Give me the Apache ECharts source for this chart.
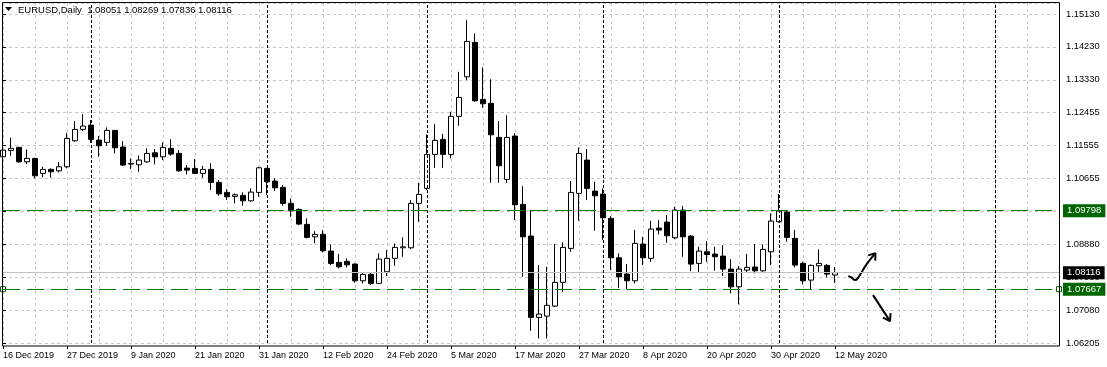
<!DOCTYPE html>
<html>
<head>
<meta charset="utf-8">
<script src="https://cdn.jsdelivr.net/npm/echarts@6/dist/echarts.min.js"></script>
<style>
html,body{margin:0;padding:0;background:#fff;}
#chart{width:1107px;height:367px;}
</style>
</head>
<body>
<div id="chart"></div>
<script>
// ---- data ----
const opens = [1.11259,1.11432,1.11514,1.11123,1.11215,1.10809,1.10917,1.10879,1.10988,1.11693,
1.12002,1.12119,1.11712,1.11650,1.11975,1.11522,1.11061,1.11042,1.11123,1.11367,
1.11259,1.11487,1.11351,1.10952,1.10944,1.10809,1.10917,1.10564,1.10293,1.10185,
1.10212,1.10065,1.10293,1.10944,1.10600,1.10429,1.09995,1.09832,1.09425,1.09089,
1.09154,1.08701,1.08394,1.08421,1.08348,1.07895,1.08069,1.07824,1.08139,1.08503,
1.08790,1.08790,1.09995,1.10402,1.11324,1.11731,1.11324,1.12355,1.13429,1.14362,
1.12816,1.12708,1.11785,1.10646,1.11820,1.09968,1.09108,1.06902,1.06937,1.07209,
1.07852,1.08774,1.10266,1.11169,1.10328,1.10247,1.09588,1.08519,1.08077,1.07895,
1.08891,1.08503,1.09325,1.09487,1.09062,1.09813,1.09108,1.08367,1.08682,1.08619,
1.08565,1.08212,1.07732,1.08185,1.08267,1.08166,1.08682,1.09496,1.09759,1.09045,
1.08367,1.07914,1.08302,1.08313,1.08051];
const closes = [1.11441,1.11487,1.11123,1.11215,1.10743,1.10917,1.10852,1.10988,1.11758,1.12002,
1.12092,1.11731,1.11557,1.11975,1.11503,1.11034,1.11080,1.11169,1.11351,1.11259,
1.11514,1.11332,1.10879,1.10898,1.10809,1.10917,1.10564,1.10255,1.10174,1.10228,
1.10065,1.10301,1.10960,1.10581,1.10418,1.09995,1.09794,1.09433,1.09072,1.09154,
1.08709,1.08367,1.08275,1.08329,1.07895,1.08069,1.07824,1.08484,1.08503,1.08801,
1.08817,1.09995,1.10239,1.11324,1.11704,1.11324,1.12355,1.12870,1.14389,1.12778,
1.12697,1.11856,1.11015,1.11785,1.09957,1.09089,1.06902,1.06992,1.07228,1.07852,
1.08801,1.10293,1.11351,1.10402,1.10201,1.09604,1.08519,1.08004,1.07895,1.08910,
1.08519,1.09298,1.09270,1.09116,1.09813,1.09089,1.08348,1.08701,1.08611,1.08546,
1.08212,1.07732,1.08212,1.08259,1.08166,1.08747,1.09515,1.09786,1.09072,1.08321,
1.07895,1.08313,1.08367,1.08077,1.08116];
const lows = [1.11215,1.11286,1.11096,1.11061,1.10673,1.10700,1.10689,1.10836,1.10944,1.11666,
1.11956,1.11639,1.11259,1.11557,1.11351,1.11007,1.10925,1.10852,1.11096,1.11053,
1.11169,1.11286,1.10852,1.10781,1.10790,1.10689,1.10356,1.10201,1.10084,1.09995,
1.09930,1.10038,1.10174,1.10220,1.10328,1.09930,1.09631,1.09406,1.09045,1.08910,
1.08665,1.08321,1.08231,1.08259,1.07841,1.07824,1.07778,1.07805,1.08023,1.08302,
1.08546,1.08755,1.09496,1.10356,1.10960,1.10960,1.11215,1.12100,1.13340,1.12751,
1.12588,1.10554,1.10554,1.10554,1.09542,1.08004,1.06539,1.06332,1.06332,1.07180,
1.07597,1.08682,1.09523,1.10084,1.09251,1.08999,1.08185,1.07705,1.07662,1.07824,
1.08321,1.08410,1.09154,1.08926,1.09026,1.08546,1.08158,1.08112,1.08410,1.08166,
1.08023,1.07553,1.07255,1.08112,1.08096,1.08139,1.08321,1.09479,1.08953,1.08259,
1.07797,1.07662,1.08139,1.07987,1.07836];
const highs = [1.11595,1.11774,1.11530,1.11460,1.11232,1.10988,1.10944,1.11115,1.11910,1.12227,
1.12417,1.12254,1.11820,1.12056,1.11983,1.11685,1.11215,1.11297,1.11487,1.11468,
1.11650,1.11739,1.11441,1.11034,1.11196,1.11007,1.11088,1.10627,1.10375,1.10266,
1.10293,1.10402,1.10988,1.10960,1.10673,1.10491,1.10130,1.09859,1.09588,1.09243,
1.09270,1.08882,1.08619,1.08503,1.08367,1.08123,1.08112,1.08638,1.08728,1.08910,
1.09072,1.10084,1.10554,1.11867,1.12146,1.11875,1.12480,1.13565,1.14967,1.14606,
1.13684,1.13359,1.12227,1.12382,1.11894,1.10464,1.09813,1.08321,1.08275,1.08891,
1.08937,1.10600,1.11514,1.11468,1.10581,1.10402,1.09650,1.08638,1.08348,1.09270,
1.09089,1.09523,1.09542,1.09677,1.09902,1.09921,1.09135,1.08817,1.08972,1.08817,
1.08863,1.08484,1.08294,1.08619,1.08891,1.08882,1.09723,1.10247,1.09813,1.09270,
1.08410,1.08340,1.08747,1.08348,1.08269];

const yTickLabels = ['1.06205','1.07080','1.07980','1.08880','1.09780','1.10655','1.11555','1.12455','1.13330','1.14230','1.15130'];
const resistanceLevel = 1.09798;
const supportLevel = 1.07667;
const bidLevel = 1.08116;
const titleText = 'EURUSD,Daily  1.08051 1.08269 1.07836 1.08116';
const separatorIndexes = [11, 33, 53, 75, 97, 124];
// hand-drawn arrows: [bar index, price]
const arrowUpPath = [[105.66,1.08023],[106.09,1.07982],[106.5,1.07914],[106.81,1.07955],[107.96,1.08348],[109.06,1.08646]];
const arrowUpHead = [[108.16,1.08584],[109.06,1.08646],[109.03,1.08443]];
const arrowDownPath = [[108.75,1.07507],[110.88,1.06802]];
const arrowDownHead = [[110.0,1.06897],[110.88,1.06802],[110.94,1.07019]];

// categories: trading days (Dec 25 and Jan 1 closed)
const monthNames = ['Jan','Feb','Mar','Apr','May','Jun','Jul','Aug','Sep','Oct','Nov','Dec'];
const closedDays = ['2019-12-25','2020-01-01'];
const totalSlots = 133;
const categories = [];
(function(){
  let d = new Date(Date.UTC(2019,11,16));
  while (categories.length < totalSlots) {
    const dow = d.getUTCDay();
    const iso = d.toISOString().slice(0,10);
    if (dow !== 0 && dow !== 6 && closedDays.indexOf(iso) < 0) {
      categories.push(d.getUTCDate() + ' ' + monthNames[d.getUTCMonth()] + ' ' + d.getUTCFullYear());
    }
    d = new Date(d.getTime() + 86400000);
  }
})();
const lastBar = opens.length - 1;
const candleData = opens.map((o, i) => [o, closes[i], lows[i], highs[i]]);
// anchor squares of the selected support line (first and last slot)
const supportAnchors = [[0, supportLevel], [totalSlots - 1, supportLevel]];

// ---- chart ----
const FONT = 'Liberation Sans';
const yInterval = 0.008925;
const yMin = 119 * yInterval;            // 1.062075
const yMax = yMin + 340 * 0.00027128;
const chart = echarts.init(document.getElementById('chart'), null, {renderer: 'canvas'});

const tagLabel = (bg) => ({
  show: true, position: 'end', distance: 4,
  formatter: (p) => Number(p.value).toFixed(5),
  color: '#fff', backgroundColor: bg, padding: [2, 4, 1, 4],
  fontFamily: FONT, fontSize: 9.5, lineHeight: 10
});
const TAG_GREEN = '#006400';
const greenDash = () => ({color: '#008000', type: [17, 7], width: 1});

chart.setOption({
  animation: false,
  backgroundColor: '#fff',
  title: {
    text: titleText, left: 18, top: 5, padding: 0,
    textStyle: {fontFamily: FONT, fontSize: 9.5, fontWeight: 'normal', color: '#000'}
  },
  grid: {left: 3, top: 3, right: 48, bottom: 24, show: false},
  xAxis: [{
    type: 'category', data: categories, boundaryGap: false, offset: 3,
    axisLine: {show: false},
    axisTick: {show: true, length: 3, lineStyle: {color: '#000'},
      interval: (i) => i % 8 === 0 && i <= lastBar},
    axisLabel: {
      interval: (i) => i % 8 === 0 && i <= lastBar,
      align: 'left', margin: 5, color: '#000',
      fontFamily: FONT, fontSize: 9, hideOverlap: false
    },
    splitLine: {show: true, interval: (i) => i % 4 === 0,
      lineStyle: {color: '#c8c8c8', type: [3, 3], width: 1}}
  }, {
    type: 'value', min: 0, max: totalSlots - 1, show: false
  }],
  yAxis: {
    type: 'value', position: 'right', min: yMin, max: yMax, interval: yInterval,
    scale: true,
    axisLine: {show: false},
    axisTick: {show: true, length: 3, lineStyle: {color: '#000'}},
    axisLabel: {
      margin: 7, color: '#000', fontFamily: FONT, fontSize: 9.3,
      showMinLabel: true, showMaxLabel: false,
      formatter: (v) => {
        const k = (v - yMin) / yInterval;
        const r = Math.round(k);
        if (Math.abs(k - r) > 0.05) return '';
        return yTickLabels[r] || '';
      }
    },
    splitLine: {show: true, lineStyle: {color: '#c8c8c8', type: [3, 3], width: 1}}
  },
  graphic: [
    {type: 'rect', z: 100, silent: true,
      shape: {x: 2.5, y: 2.5, width: 1057, height: 343.5},
      style: {fill: 'none', stroke: '#000', lineWidth: 1}},
    {type: 'polygon', z: 100, silent: true,
      shape: {points: [[5, 7], [12, 7], [8.5, 11]]},
      style: {fill: '#000'}}
  ],
  series: [
    {
      type: 'candlestick', name: 'EURUSD', data: candleData,
      xAxisIndex: 0, yAxisIndex: 0, barWidth: 5, clip: true,
      itemStyle: {color: '#fff', color0: '#000', borderColor: '#000', borderColor0: '#000', borderWidth: 1},
      markLine: {
        silent: true, symbol: 'none', animation: false, precision: 5,
        data: [
          {yAxis: bidLevel, lineStyle: {color: '#c0c0c0', type: 'solid', width: 1}, label: tagLabel('#000')}
        ]
      }
    },
    {
      type: 'line', name: 'levels', xAxisIndex: 1, yAxisIndex: 0, silent: true,
      data: supportAnchors, symbol: 'rect', symbolSize: 5, showSymbol: true,
      lineStyle: {width: 0, opacity: 0},
      itemStyle: {color: '#fff', borderColor: '#006000', borderWidth: 1},
      markLine: {
        silent: true, symbol: 'none', animation: false, precision: 5,
        lineStyle: {color: '#008000', type: [17, 7], width: 1},
        data: [
          {yAxis: resistanceLevel, lineStyle: greenDash(), label: tagLabel(TAG_GREEN)},
          {yAxis: supportLevel, lineStyle: greenDash(), label: tagLabel(TAG_GREEN)}
        ]
      }
    },
    {
      type: 'line', xAxisIndex: 1, yAxisIndex: 0, data: [], silent: true,
      markLine: {
        silent: true, symbol: 'none', animation: false, label: {show: false}, precision: 5,
        lineStyle: {color: '#000', type: [3, 2], width: 1},
        data: separatorIndexes.map((v) => ({xAxis: v}))
      }
    },
    {type: 'line', xAxisIndex: 1, yAxisIndex: 0, data: arrowUpPath, smooth: 0.4, showSymbol: false, symbol: 'none',
      lineStyle: {color: '#000', width: 2}, silent: true},
    {type: 'line', xAxisIndex: 1, yAxisIndex: 0, data: arrowUpHead, showSymbol: false, symbol: 'none',
      lineStyle: {color: '#000', width: 2}, silent: true},
    {type: 'line', xAxisIndex: 1, yAxisIndex: 0, data: arrowDownPath, showSymbol: false, symbol: 'none',
      lineStyle: {color: '#000', width: 2}, silent: true},
    {type: 'line', xAxisIndex: 1, yAxisIndex: 0, data: arrowDownHead, showSymbol: false, symbol: 'none',
      lineStyle: {color: '#000', width: 2}, silent: true}
  ]
});
</script>
</body>
</html>
